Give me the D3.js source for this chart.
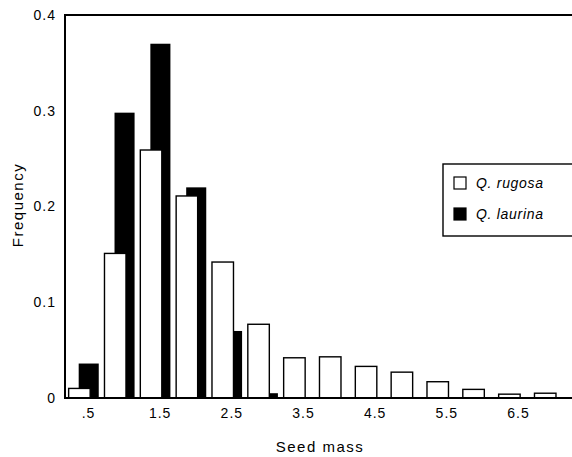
<!DOCTYPE html>
<html>
<head>
<meta charset="utf-8">
<script src="https://cdn.jsdelivr.net/npm/d3@7"></script>
<style>
  body { margin: 0; background: #fff; }
  svg { display: block; }
  text { font-family: "Liberation Sans", Arial, Helvetica, sans-serif; fill: #000; }
  .tick text { font-size: 14px; letter-spacing: 1px; }
  .axis-title { font-size: 15px; letter-spacing: 1.5px; }
  .legend text { font-size: 14px; font-style: italic; letter-spacing: 0.7px; }
</style>
</head>
<body>
<svg id="chart" width="572" height="457"></svg>
<script>
/* Seed mass frequency histogram, two oak species */

const bins     = [0.5, 1.0, 1.5, 2.0, 2.5, 3.0, 3.5, 4.0, 4.5, 5.0, 5.5, 6.0, 6.5, 7.0];
const rugosa   = [0.010, 0.151, 0.259, 0.211, 0.142, 0.077, 0.042, 0.043, 0.033, 0.027, 0.017, 0.009, 0.004, 0.005];
const laurina  = [0.036, 0.298, 0.370, 0.220, 0.070, 0.005, 0, 0, 0, 0, 0, 0, 0, 0];
const xTicks   = [0.5, 1.5, 2.5, 3.5, 4.5, 5.5, 6.5];
const yTicks   = [0, 0.1, 0.2, 0.3, 0.4];
const series   = ["Q. rugosa", "Q. laurina"];

const svg = d3.select("#chart");
const plotLeft = 65, plotRight = 580, plotTop = 15, plotBottom = 398;

const x = d3.scaleLinear().domain([0.5, 6.5]).range([88, 518]);
const y = d3.scaleLinear().domain([0, 0.4]).range([plotBottom, plotTop]);

// black bars first, white bars overlap them on the left
svg.append("g").selectAll("rect")
    .data(bins.map((b, i) => ({b: b, v: laurina[i]})).filter(d => d.v > 0))
    .enter().append("rect")
    .attr("x", d => x(d.b - 0.13))
    .attr("width", x(0.78) - x(0.5))
    .attr("y", d => y(d.v))
    .attr("height", d => y(0) - y(d.v))
    .attr("fill", "#000");

svg.append("g").selectAll("rect")
    .data(bins.map((b, i) => ({b: b, v: rugosa[i]})))
    .enter().append("rect")
    .attr("x", d => x(d.b - 0.27))
    .attr("width", x(0.8) - x(0.5))
    .attr("y", d => y(d.v))
    .attr("height", d => y(0) - y(d.v))
    .attr("fill", "#fff")
    .attr("stroke", "#000")
    .attr("stroke-width", 1.4);

// frame: left, top and bottom lines
svg.append("path")
    .attr("d", `M${plotRight},${plotTop}H${plotLeft}V${plotBottom}H${plotRight}`)
    .attr("fill", "none")
    .attr("stroke", "#000")
    .attr("stroke-width", 2);

const xAxis = d3.axisBottom(x).tickValues(xTicks).tickSize(0).tickPadding(10)
    .tickFormat(d => d < 1 ? ".5" : d3.format(".1f")(d));
svg.append("g").attr("transform", `translate(0,${plotBottom})`).call(xAxis)
    .call(g => g.select(".domain").remove())
    .call(g => g.attr("font-family", null).attr("font-size", null));

const yAxis = d3.axisLeft(y).tickValues(yTicks).tickSize(0).tickPadding(9)
    .tickFormat(d => d === 0 ? "0" : d3.format(".1f")(d));
svg.append("g").attr("transform", `translate(${plotLeft},0)`).call(yAxis)
    .call(g => g.select(".domain").remove())
    .call(g => g.attr("font-family", null).attr("font-size", null));

svg.append("text").attr("class", "axis-title")
    .attr("x", 320).attr("y", 452)
    .attr("text-anchor", "middle")
    .text("Seed mass");

svg.append("text").attr("class", "axis-title")
    .attr("transform", "translate(23,205) rotate(-90)")
    .attr("text-anchor", "middle")
    .text("Frequency");

// legend
const legend = svg.append("g").attr("class", "legend");
legend.append("rect")
    .attr("x", 443).attr("y", 164).attr("width", 140).attr("height", 72)
    .attr("fill", "#fff").attr("stroke", "#000").attr("stroke-width", 1.4);

const items = legend.selectAll("g.item").data(series).enter()
    .append("g").attr("class", "item")
    .attr("transform", (d, i) => `translate(454,${177 + i * 31})`);
items.append("rect")
    .attr("width", 12).attr("height", 12)
    .attr("fill", (d, i) => i ? "#000" : "#fff")
    .attr("stroke", "#000").attr("stroke-width", 1.2);
items.append("text")
    .attr("x", 22).attr("y", 11)
    .text(d => d);
</script>
</body>
</html>
